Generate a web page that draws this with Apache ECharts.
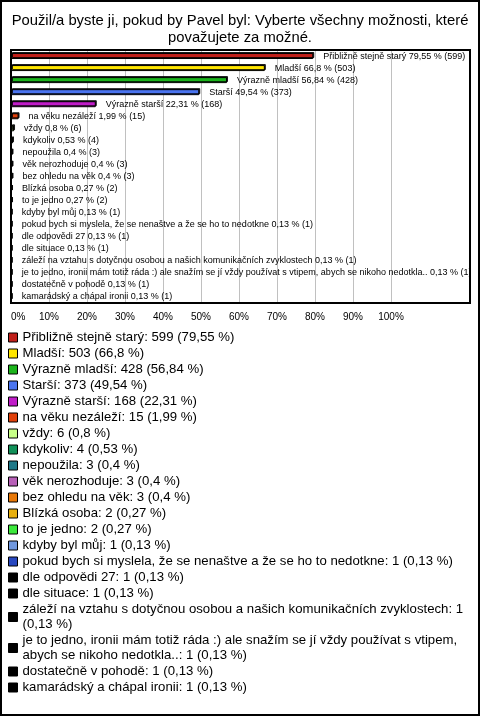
<!DOCTYPE html>
<html>
<head>
<meta charset="utf-8">
<script src="https://cdn.jsdelivr.net/npm/echarts@6/dist/echarts.min.js"></script>
<style>
html,body{margin:0;padding:0;background:#fff;}
#c{width:480px;height:716px;}
</style>
</head>
<body>
<div id="c"></div>
<script>
const titleText = "Použil/a byste ji, pokud by Pavel byl: Vyberte všechny možnosti, které\npovažujete za možné.";
const categories = [
  "Přibližně stejně starý",
  "Mladší",
  "Výrazně mladší",
  "Starší",
  "Výrazně starší",
  "na věku nezáleží",
  "vždy",
  "kdykoliv",
  "nepoužila",
  "věk nerozhoduje",
  "bez ohledu na věk",
  "Blízká osoba",
  "to je jedno",
  "kdyby byl můj",
  "pokud bych si myslela, že se nenaštve a že se ho to nedotkne",
  "dle odpovědi 27",
  "dle situace",
  "záleží na vztahu s dotyčnou osobou a našich komunikačních zvyklostech",
  "je to jedno, ironii mám totiž ráda :) ale snažím se jí vždy používat s vtipem, abych se nikoho nedotkla..",
  "dostatečně v pohodě",
  "kamarádský a chápal ironii"
];
const percents = [79.55, 66.8, 56.84, 49.54, 22.31, 1.99, 0.8, 0.53, 0.4, 0.4, 0.4, 0.27, 0.27, 0.13, 0.13, 0.13, 0.13, 0.13, 0.13, 0.13, 0.13];
const counts = [599, 503, 428, 373, 168, 15, 6, 4, 3, 3, 3, 2, 2, 1, 1, 1, 1, 1, 1, 1, 1];
const colors = ["#C0201A", "#FFE600", "#1CB41C", "#4A74F0", "#C01CC8", "#E0400A", "#C8FF88", "#109058", "#1E7888", "#B860B8", "#E87808", "#E8B010", "#3CE83C", "#7098E0", "#2848C0", "#000000", "#000000", "#000000", "#000000", "#000000", "#000000"];
const xTicks = [0, 10, 20, 30, 40, 50, 60, 70, 80, 90, 100];

const fmt = v => String(v).replace('.', ',');
const FONT = "'Liberation Sans', Arial, sans-serif";

const series = categories.map((name, i) => ({
  name: name,
  type: 'bar',
  stack: 'all',
  barWidth: 6,
  data: categories.map((c, j) => j === i ? percents[i] : null),
  itemStyle: {
    color: colors[i],
    borderColor: '#000',
    borderWidth: 1,
    shadowColor: 'rgba(0,0,0,0.85)',
    shadowOffsetX: 1,
    shadowOffsetY: -1,
    shadowBlur: 0
  },
  label: {
    show: true,
    position: 'right',
    distance: 10,
    color: '#000',
    fontFamily: FONT,
    fontSize: 9,
    formatter: () => name + ' ' + fmt(percents[i]) + ' % (' + counts[i] + ')'
  },
  emphasis: {disabled: true}
}));

const chart = echarts.init(document.getElementById('c'), null, {renderer: 'canvas'});
chart.setOption({
  animation: false,
  backgroundColor: '#fff',
  title: {
    text: titleText,
    left: 'center',
    top: 12,
    padding: 0,
    textStyle: {fontFamily: FONT, fontSize: 14.8, fontWeight: 'normal', color: '#000', lineHeight: 17}
  },
  grid: {left: 11, right: 89, top: 50, bottom: 413, containLabel: false},
  xAxis: {
    type: 'value',
    min: xTicks[0],
    max: xTicks[xTicks.length - 1],
    interval: 10,
    axisLine: {show: false},
    axisTick: {show: false},
    splitLine: {show: true, lineStyle: {color: '#c0c0c0', width: 1}},
    axisLabel: {
      formatter: '{value}%',
      color: '#000',
      fontFamily: FONT,
      fontSize: 10,
      margin: 9,
      alignMinLabel: 'left'
    }
  },
  yAxis: {
    type: 'category',
    data: categories,
    inverse: true,
    axisLine: {show: false},
    axisTick: {show: false},
    axisLabel: {show: false},
    splitLine: {show: false}
  },
  legend: {
    orient: 'vertical',
    left: 8,
    top: 330,
    padding: 0,
    itemWidth: 9,
    itemHeight: 9,
    itemGap: 1,
    icon: 'rect',
    selectedMode: false,
    data: categories,
    itemStyle: {borderColor: '#000', borderWidth: 1, shadowBlur: 0, shadowOffsetX: 0, shadowOffsetY: 0},
    formatter: name => {
      const i = categories.indexOf(name);
      return name + ': ' + counts[i] + ' (' + fmt(percents[i]) + ' %)';
    },
    textStyle: {
      fontFamily: FONT,
      fontSize: 13.2,
      color: '#000',
      lineHeight: 15,
      width: 504,
      overflow: 'break'
    }
  },
  graphic: [
    {type: 'rect', shape: {x: 11, y: 50, width: 459, height: 253}, style: {fill: null, stroke: '#000', lineWidth: 2}, silent: true, z: 100},
    {type: 'rect', shape: {x: 1, y: 1, width: 478, height: 714}, style: {fill: null, stroke: '#000', lineWidth: 2}, silent: true, z: 100}
  ],
  series: series
});
</script>
</body>
</html>
